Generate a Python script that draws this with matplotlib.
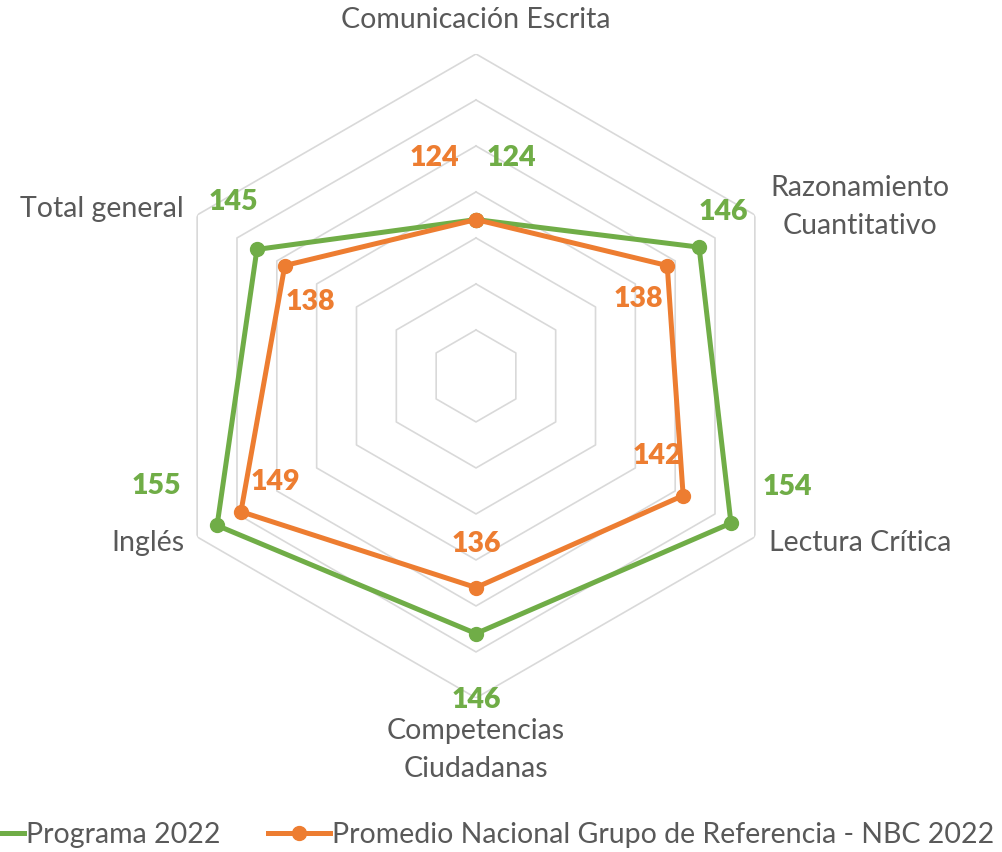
import numpy as np
import matplotlib.pyplot as plt

plt.rcParams['font.family'] = ['Lato', 'DejaVu Sans']

# Data
categorias = ["Comunicación Escrita", "Razonamiento\nCuantitativo", "Lectura Crítica",
              "Competencias\nCiudadanas", "Inglés", "Total general"]
programa = [124, 146, 154, 146, 155, 145]
promedio = [124, 138, 142, 136, 149, 138]
series_names = ["Programa 2022", "Promedio Nacional Grupo de Referencia - NBC 2022"]
r_min, r_max, r_step = 90, 160, 10

verde = '#70AD47'
naranja = '#ED7D31'
gris_txt = '#595959'
gris_grid = '#D9D9D9'

n = len(categorias)
ang = np.arange(n) * 2 * np.pi / n
ang_c = np.append(ang, ang[0])

fig = plt.figure(figsize=(10.02, 8.52), dpi=100)
ax = fig.add_axes([0.1537, 0.1808, 0.6427, 0.7559], projection='polar')
ax.set_theta_offset(np.pi / 2)
ax.set_theta_direction(-1)
ax.set_ylim(r_min, r_max)
ax.grid(False)
ax.spines['polar'].set_visible(False)
ax.set_xticks([])
ax.set_yticks([])
ax.patch.set_alpha(0)

# hexagon rings
for r in range(r_min + r_step, r_max + 1, r_step):
    ax.plot(ang_c, [r] * (n + 1), color=gris_grid, lw=1.2, zorder=1)

ax.plot(ang_c, programa + programa[:1], color=verde, lw=3.6, marker='o', ms=10,
        label=series_names[0], zorder=3, clip_on=False)
ax.plot(ang_c, promedio + promedio[:1], color=naranja, lw=3.6, marker='o', ms=10,
        label=series_names[1], zorder=4, clip_on=False)

# category labels (pixel offsets from centre)
cat_off = [(0, 356), (384, 169), (384, -167), (0, -374), (-328, -167), (-374, 167)]
for lab, (dx, dy) in zip(categorias, cat_off):
    ax.annotate(lab, xy=(0, r_min), xytext=(dx, dy), textcoords='offset pixels',
                ha='center', va='center', fontsize=20.5, color=gris_txt,
                linespacing=1.55, annotation_clip=False)

# data labels
off_prog = [(35, 62), (24, 35), (56, 36), (0, -66), (-61, 39), (-24, 47)]
off_prom = [(-42, 62), (-29, -33), (-26, 40), (0, 44), (34, 30), (26, -36)]
for vals, offs, col in [(programa, off_prog, verde), (promedio, off_prom, naranja)]:
    for a, v, (dx, dy) in zip(ang, vals, offs):
        ax.annotate(str(v), xy=(a, v), xytext=(dx, dy), textcoords='offset pixels',
                    ha='center', va='center', fontsize=20.5, fontweight='heavy',
                    color=col, annotation_clip=False, zorder=5)

fig.legend(loc='center', bbox_to_anchor=(0.477, 0.02), ncol=2, frameon=False,
           fontsize=20.5, labelcolor=gris_txt, handlelength=2.2, columnspacing=1.65,
           handletextpad=0.08)

fig.savefig('out.png', dpi=100, facecolor='white')
